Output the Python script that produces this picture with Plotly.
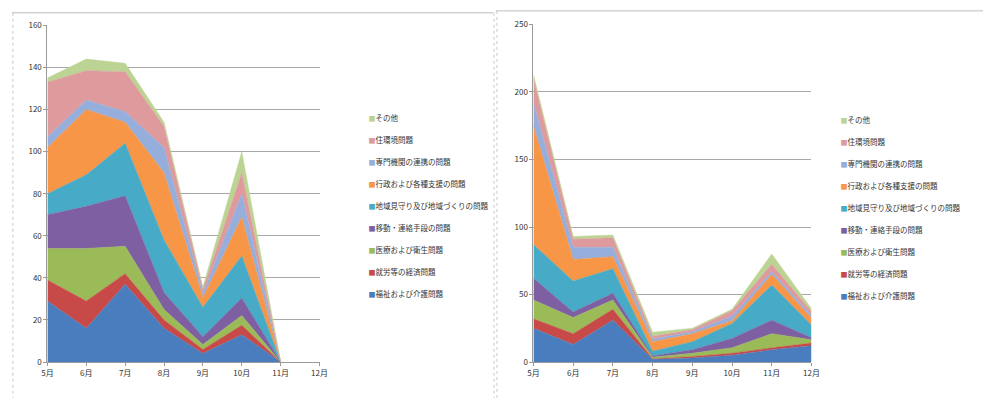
import plotly.graph_objects as go

months = ["5月", "6月", "7月", "8月", "9月", "10月", "11月", "12月"]
series_names = [
    "福祉および介護問題",
    "就労等の経済問題",
    "医療および衛生問題",
    "移動・連絡手段の問題",
    "地域見守り及び地域づくりの問題",
    "行政および各種支援の問題",
    "専門機関の連携の問題",
    "住環境問題",
    "その他",
]
colors = ["#4A7DBE", "#C84A48", "#9BBB59", "#7E5FA2", "#47ABC7",
          "#F79646", "#95AEDB", "#DE9A9C", "#BCD493"]

# left chart (5月..11月)
left_months = months[:7]
left_welfare = [29, 16, 37, 16, 4, 13, 0]
left_work = [10, 13, 5, 4, 2, 4.5, 0]
left_medical = [15, 25, 13, 5, 2.3, 4.6, 0]
left_transport = [16, 20, 24, 8, 3.7, 8.3, 0]
left_community = [10, 15, 25, 25, 14, 20, 0]
left_admin = [22, 31, 10, 32, 4.6, 18.5, 0]
left_agency = [5, 4.5, 5, 12, 2, 11, 0]
left_housing = [26, 14, 19, 10, 2, 10, 0]
left_other = [2, 5.5, 4, 2, 1, 10, 0]

# right chart (5月..12月)
right_welfare = [25, 13, 31, 2, 3, 5, 9, 12]
right_work = [7, 8, 8, 0.5, 1, 1.5, 1.5, 2]
right_medical = [14, 12, 7, 1, 2.5, 4, 10.5, 2.5]
right_transport = [16, 4, 5, 1, 2.5, 7, 10, 1.5]
right_community = [25, 23, 18, 3.5, 6, 11, 26, 9.5]
right_admin = [88, 16, 9, 7, 6, 2, 8, 5]
right_agency = [17, 9, 7, 2, 1.5, 3.5, 2, 2]
right_housing = [18, 6, 7, 2, 1.5, 4, 5.5, 3]
right_other = [3, 2, 2, 3, 1, 1, 7.5, 2]

left_data = [left_welfare, left_work, left_medical, left_transport, left_community,
             left_admin, left_agency, left_housing, left_other]
right_data = [right_welfare, right_work, right_medical, right_transport, right_community,
              right_admin, right_agency, right_housing, right_other]

left_yticks = [0, 20, 40, 60, 80, 100, 120, 140, 160]
right_yticks = [0, 50, 100, 150, 200, 250]

W, H = 991, 403
FONT = "Noto Sans CJK JP"
TXT = "#333333"

fig = go.Figure()
for name, vals, col in zip(series_names, left_data, colors):
    fig.add_trace(go.Scatter(
        x=left_months, y=vals, name=name, mode="lines", stackgroup="L",
        line=dict(width=0.5, color=col), fillcolor=col, showlegend=False,
        xaxis="x", yaxis="y", hoverinfo="skip"))
for name, vals, col in zip(series_names, right_data, colors):
    fig.add_trace(go.Scatter(
        x=months, y=vals, name=name, mode="lines", stackgroup="R",
        line=dict(width=0.5, color=col), fillcolor=col, showlegend=False,
        xaxis="x2", yaxis="y2", hoverinfo="skip"))

# legend entries (top = last series): small coloured square + label
for lg, xa, ya in (("legend", "x", "y"), ("legend2", "x2", "y2")):
    for i, (name, col) in enumerate(zip(series_names[::-1], colors[::-1])):
        fig.add_trace(go.Scatter(
            x=[None], y=[None], mode="markers",
            marker=dict(color="rgba(0,0,0,0)", size=1),
            name=f'<span style="color:{col};font-size:7px">■</span>{name}',
            legend=lg, legendgroup=f"{lg}_{i}", xaxis=xa, yaxis=ya,
            hoverinfo="skip"))

def px_x(p):
    return p / W

def px_y(p):
    return 1 - p / H

axis_common = dict(
    showline=True, linecolor="#9a9a9a", linewidth=1,
    ticks="outside", ticklen=3, tickcolor="#9a9a9a",
    tickfont=dict(family=FONT, size=8, color=TXT),
    zeroline=False,
)

legend_common = dict(
    xanchor="left", yanchor="top", traceorder="grouped",
    tracegroupgap=3,
    font=dict(family=FONT, size=7.5, color=TXT), itemwidth=30,
    bgcolor="rgba(0,0,0,0)", itemclick=False, itemdoubleclick=False,
)

fig.update_layout(
    width=W, height=H,
    margin=dict(l=0, r=0, t=0, b=0),
    paper_bgcolor="white", plot_bgcolor="white",
    font=dict(family=FONT, size=8, color=TXT),
    xaxis=dict(domain=[px_x(42), px_x(318)], type="category",
               categoryorder="array", categoryarray=months,
               range=[0, 7], showgrid=False, anchor="y", **axis_common),
    yaxis=dict(domain=[px_y(366), px_y(20)], range=[0, 160],
               tickvals=left_yticks, showgrid=True, gridcolor="#a8a8a8",
               gridwidth=1, anchor="x", **axis_common),
    xaxis2=dict(domain=[px_x(535), px_x(817)], type="category",
                categoryorder="array", categoryarray=months,
                range=[0, 7], showgrid=False, anchor="y2", **axis_common),
    yaxis2=dict(domain=[px_y(366), px_y(19)], range=[0, 250],
                tickvals=right_yticks, showgrid=True, gridcolor="#a8a8a8",
                gridwidth=1, anchor="x2", **axis_common),
    legend=dict(x=px_x(327), y=px_y(100), **legend_common),
    legend2=dict(x=px_x(806), y=px_y(102), **legend_common),
    showlegend=True,
)

# chart area borders (from the screenshot frames)
border = dict(color="#bdbdbd", width=1)
dotted = dict(color="#c8c8c8", width=1, dash="dot")
fig.add_shape(type="line", xref="paper", yref="paper",
              x0=px_x(6), x1=px_x(494), y0=px_y(7), y1=px_y(7), line=border)
fig.add_shape(type="line", xref="paper", yref="paper",
              x0=px_x(7), x1=px_x(7), y0=px_y(7), y1=0, line=dotted)
fig.add_shape(type="line", xref="paper", yref="paper",
              x0=px_x(495), x1=px_x(495), y0=px_y(7), y1=0, line=dotted)
fig.add_shape(type="line", xref="paper", yref="paper",
              x0=px_x(497), x1=1, y0=px_y(5), y1=px_y(5), line=border)
fig.add_shape(type="line", xref="paper", yref="paper",
              x0=px_x(498), x1=px_x(498), y0=px_y(5), y1=0, line=dotted)

fig.write_html("out.html")
